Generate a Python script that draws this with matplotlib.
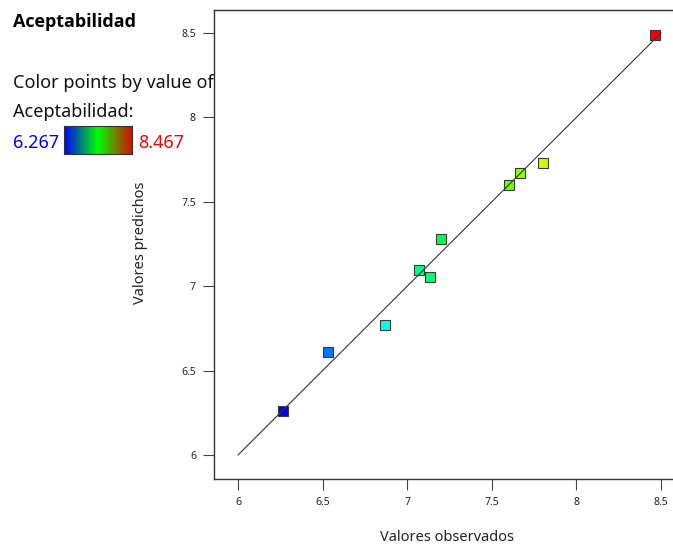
import numpy as np
import matplotlib
matplotlib.use("Agg")
import matplotlib.pyplot as plt
from matplotlib.colors import LinearSegmentedColormap, Normalize

plt.rcParams['font.family'] = ['Noto Sans', 'DejaVu Sans']

observed = [6.267, 6.533, 6.866, 7.069, 7.132, 7.200, 7.602, 7.669, 7.800, 8.467]
predicted = [6.262, 6.609, 6.773, 7.098, 7.056, 7.278, 7.599, 7.673, 7.732, 8.488]
tick_vals = [6, 6.5, 7, 7.5, 8, 8.5]
tick_labels = ["6", "6.5", "7", "7.5", "8", "8.5"]
vmin, vmax = 6.267, 8.467

W, H = 673, 547
fig = plt.figure(figsize=(W / 100, H / 100), dpi=100)

def px(x0, y0, x1, y1):
    return [x0 / W, 1 - y1 / H, (x1 - x0) / W, (y1 - y0) / H]

ax = fig.add_axes(px(214, 10, 681, 479))
xmin = 6 - 24 / 169.2
ax.set_xlim(xmin, xmin + (681 - 214) / 169.2)
ax.set_ylim(6 - 24 / 168.8, 8.5 + 23 / 168.8)

pt_cmap = LinearSegmentedColormap.from_list(
    "pts", [(0, 0, 1), (0, 1, 1), (0, 1, 0), (1, 1, 0), (1, 0, 0)])
bar_cmap = LinearSegmentedColormap.from_list(
    "bar", [(0, 0, 1), (0, 1, 0), (0.85, 0.05, 0)])
norm = Normalize(vmin, vmax)

ax.scatter(observed, predicted, c=observed, cmap=pt_cmap, norm=norm,
           marker='s', s=52, edgecolors='#3a3a3a', linewidths=0.8, zorder=2)
ax.plot([6, 8.5], [6, 8.5], color='#333333', lw=0.8, zorder=3)

ax.set_xticks(tick_vals)
ax.set_xticklabels(tick_labels)
ax.set_yticks(tick_vals)
ax.set_yticklabels(tick_labels)
ax.tick_params(axis='both', labelsize=7.5, length=8, width=0.8,
               color='#444444', labelcolor='#222222', pad=5)
ax.spines['right'].set_visible(False)
for s in ['left', 'top', 'bottom']:
    ax.spines[s].set_color('#333333')
    ax.spines[s].set_linewidth(1.0)

fig.text(447 / W, 1 - 541 / H, "Valores observados", ha='center',
         va='baseline', fontsize=10.5, color='#222222')
fig.text(140 / W, 1 - 243 / H, "Valores predichos", ha='center',
         va='center', rotation=90, fontsize=10.5, color='#222222')

fig.text(13 / W, 1 - 26.7 / H, "Aceptabilidad", fontweight='bold',
         family=['Open Sans', 'DejaVu Sans'],
         fontsize=13, va='baseline', ha='left', color='black')
fig.text(13 / W, 1 - 87.5 / H, "Color points by value of",
         fontsize=13, va='baseline', ha='left', color='#111111')
fig.text(13 / W, 1 - 116.7 / H, "Aceptabilidad:",
         fontsize=13, va='baseline', ha='left', color='#111111')
fig.text(13 / W, 1 - 147.7 / H, "6.267",
         fontsize=13, va='baseline', ha='left', color='blue')
fig.text(138 / W, 1 - 147.7 / H, "8.467",
         fontsize=13, va='baseline', ha='left', color='red')

cax = fig.add_axes(px(64, 126, 132, 154))
grad = np.linspace(0, 1, 256).reshape(1, -1)
cax.imshow(grad, aspect='auto', cmap=bar_cmap, extent=[0, 1, 0, 1])
cax.set_xticks([])
cax.set_yticks([])
for s in cax.spines.values():
    s.set_color('#333333')
    s.set_linewidth(0.8)

fig.savefig("out.png", dpi=100)
